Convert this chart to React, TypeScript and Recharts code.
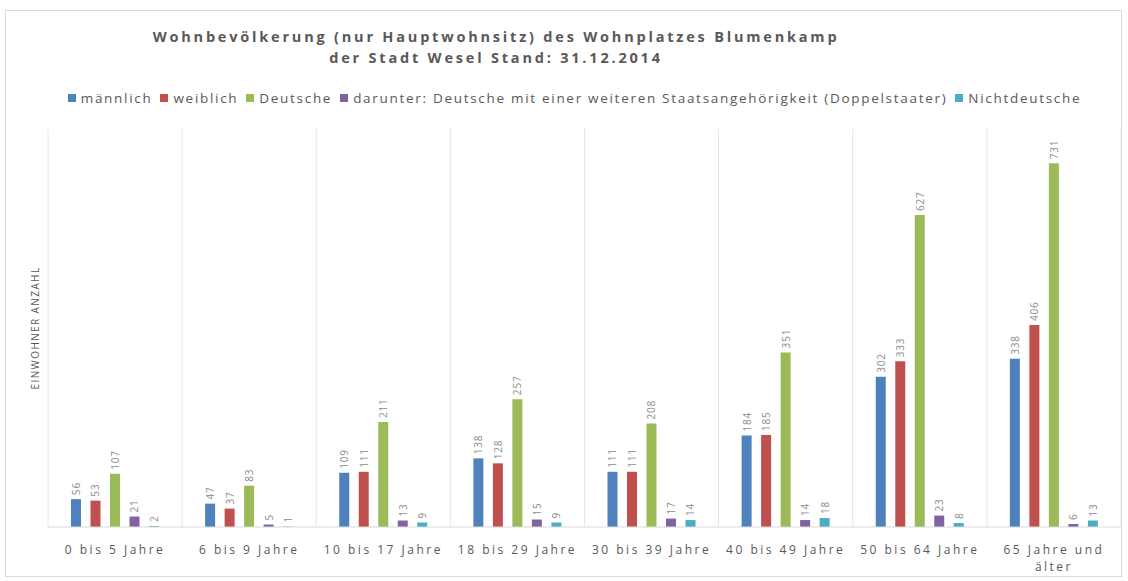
import React from 'react';
import { BarChart, Bar, XAxis, YAxis, CartesianGrid, LabelList } from 'recharts';

const categories = [
  '0 bis 5 Jahre',
  '6 bis 9 Jahre',
  '10 bis 17 Jahre',
  '18 bis 29 Jahre',
  '30 bis 39 Jahre',
  '40 bis 49 Jahre',
  '50 bis 64 Jahre',
  '65 Jahre und älter',
];
const maennlich = [56, 47, 109, 138, 111, 184, 302, 338];
const weiblich = [53, 37, 111, 128, 111, 185, 333, 406];
const deutsche = [107, 83, 211, 257, 208, 351, 627, 731];
const doppelstaater = [21, 5, 13, 15, 17, 14, 23, 6];
const nichtdeutsche = [2, 1, 9, 9, 14, 18, 8, 13];

const series = [
  { key: 'maennlich', name: 'männlich', color: '#4F81BD', values: maennlich },
  { key: 'weiblich', name: 'weiblich', color: '#C0504D', values: weiblich },
  { key: 'deutsche', name: 'Deutsche', color: '#9BBB59', values: deutsche },
  {
    key: 'doppelstaater',
    name: 'darunter: Deutsche mit einer weiteren Staatsangehörigkeit (Doppelstaater)',
    color: '#8064A2',
    values: doppelstaater,
  },
  { key: 'nichtdeutsche', name: 'Nichtdeutsche', color: '#4BACC6', values: nichtdeutsche },
];

const data = categories.map((name, i) => {
  const row: Record<string, string | number> = { name };
  series.forEach(s => {
    row[s.key] = s.values[i];
  });
  return row;
});

const FONT = '"Open Sans", "DejaVu Sans", sans-serif';
const TEXT = '#595959';

// split long category names into lines (Excel wraps "65 Jahre und älter")
const wrapLabel = (label: string, max = 15) => {
  const lines: string[] = [];
  let cur = '';
  label.split(' ').forEach(w => {
    const next = cur ? `${cur} ${w}` : w;
    if (next.length > max && cur) {
      lines.push(cur);
      cur = w;
    } else {
      cur = next;
    }
  });
  if (cur) lines.push(cur);
  return lines;
};

const CategoryTick = (props: any) => {
  const { x, y, payload } = props;
  const lines = wrapLabel(String(payload.value));
  return (
    <text x={x} y={y} textAnchor="middle" fill={TEXT} fontSize={12} fontFamily={FONT} letterSpacing={2.5}>
      {lines.map((l, i) => (
        <tspan key={i} x={x} dy={i === 0 ? 19 : 17}>
          {l}
        </tspan>
      ))}
    </text>
  );
};

const ValueLabel = (props: any) => {
  const { x, y, width, value } = props;
  const cx = x + width / 2;
  const cy = y - 4;
  return (
    <text
      x={cx}
      y={cy}
      transform={`rotate(-90, ${cx}, ${cy})`}
      textAnchor="start"
      dominantBaseline="central"
      fill="#8c8c8c"
      fontSize={10}
      fontFamily={FONT}
      letterSpacing={0.8}
    >
      {value}
    </text>
  );
};

export default function App() {
  return (
    <div
      style={{
        position: 'absolute',
        left: 5,
        top: 10,
        width: 1115,
        height: 565,
        border: '1px solid #d9d9d9',
        background: '#fff',
      }}
    >
      <div
        style={{
          position: 'absolute',
          left: 0,
          top: 15,
          width: 980,
          textAlign: 'center',
          fontFamily: FONT,
          fontWeight: 'bold',
          fontSize: 14.5,
          lineHeight: '21px',
          letterSpacing: 2.8,
          color: TEXT,
        }}
      >
        Wohnbevölkerung (nur Hauptwohnsitz) des Wohnplatzes Blumenkamp
        <br />
        der Stadt Wesel Stand: 31.12.2014
      </div>
      <div
        style={{
          position: 'absolute',
          left: 0,
          top: 78,
          width: 1145,
          display: 'flex',
          justifyContent: 'center',
          fontFamily: FONT,
          fontSize: 13.5,
          color: TEXT,
          letterSpacing: 1.7,
          whiteSpace: 'nowrap',
        }}
      >
        {series.map(s => (
          <span key={s.key} style={{ display: 'inline-flex', alignItems: 'center', marginRight: 8 }}>
            <span style={{ width: 8, height: 8, background: s.color, display: 'inline-block', marginRight: 5 }} />
            {s.name}
          </span>
        ))}
      </div>
      <BarChart
        width={1115}
        height={565}
        data={data}
        margin={{ top: 118, right: 0, bottom: 8, left: 0 }}
        barSize={10}
        barGap={9.5}
      >
        <CartesianGrid
          horizontal={false}
          stroke="#e6e6e6"
          verticalCoordinatesGenerator={({ offset }: any) =>
            categories.map((_, i) => offset.left + (i * offset.width) / categories.length).concat(offset.left + offset.width)
          }
        />
        <XAxis
          dataKey="name"
          tick={<CategoryTick />}
          tickLine={false}
          axisLine={{ stroke: '#d9d9d9' }}
          interval={0}
          height={41}
        />
        <YAxis
          domain={[0, 800]}
          tick={false}
          axisLine={false}
          tickLine={false}
          width={42}
          label={{
            value: 'EINWOHNER ANZAHL',
            angle: -90,
            position: 'insideLeft',
            offset: 29,
            style: { fontSize: 10, fill: TEXT, fontFamily: FONT, textAnchor: 'middle', letterSpacing: 1.4 },
          }}
        />
        {series.map(s => (
          <Bar key={s.key} dataKey={s.key} name={s.name} fill={s.color} isAnimationActive={false}>
            <LabelList dataKey={s.key} content={<ValueLabel />} />
          </Bar>
        ))}
      </BarChart>
    </div>
  );
}
